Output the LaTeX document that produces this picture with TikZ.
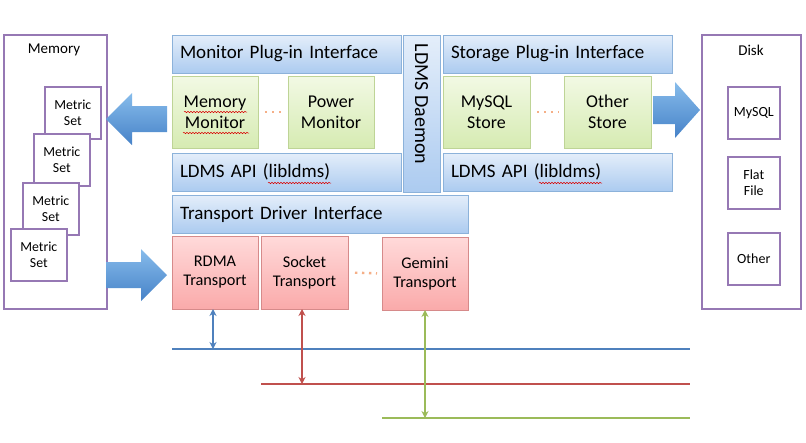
\documentclass[tikz,border=0pt]{standalone}
\usepackage{fontspec}
\setmainfont{Carlito}
\usetikzlibrary{arrows.meta,decorations.pathmorphing}
\definecolor{blueT}{RGB}{228,238,250}
\definecolor{blueBot}{RGB}{172,203,240}
\definecolor{blueB}{RGB}{140,178,218}
\definecolor{greenT}{RGB}{242,249,228}
\definecolor{greenBot}{RGB}{214,235,178}
\definecolor{greenB}{RGB}{190,212,150}
\definecolor{redT}{RGB}{255,218,218}
\definecolor{redBot}{RGB}{250,170,170}
\definecolor{redB}{RGB}{214,138,138}
\definecolor{purp}{RGB}{150,120,180}
\definecolor{arrT}{RGB}{135,188,235}
\definecolor{arrB}{RGB}{70,130,200}
\definecolor{busB}{RGB}{79,129,189}
\definecolor{busR}{RGB}{192,80,77}
\definecolor{busG}{RGB}{155,187,89}
\definecolor{dotc}{RGB}{245,175,135}
\begin{document}
\begin{tikzpicture}[x=1pt,y=-1pt,
  box/.style={draw, line width=0.8pt, inner sep=0pt, outer sep=0pt, anchor=north west, align=center},
  bluebox/.style={box, draw=blueB, top color=blueT, bottom color=blueBot},
  widebox/.style={bluebox, align=left, inner xsep=8pt, font=\fontsize{19}{22}\selectfont},
  greenbox/.style={box, draw=greenB, top color=greenT, bottom color=greenBot, minimum height=72pt, font=\fontsize{18}{21}\selectfont},
  redbox/.style={box, draw=redB, top color=redT, bottom color=redBot, minimum height=73pt, font=\fontsize{16.3}{19}\selectfont},
  purpbox/.style={draw=purp, line width=1.6pt, fill=white, inner sep=0pt, anchor=north west, align=center},
  msbox/.style={purpbox, minimum width=56pt, minimum height=52pt, font=\fontsize{13.8}{16}\selectfont},
  dkbox/.style={purpbox, minimum width=52pt, minimum height=52pt, font=\fontsize{14}{16}\selectfont},
  bigarrow/.style={top color=arrT, bottom color=arrB, draw=none},
  dotline/.style={draw=dotc, line width=2.4pt, dash pattern=on 2.4pt off 4.6pt, shorten <=7pt, shorten >=5pt},
  bus/.style={line width=2.4pt},
  busarrow/.style={line width=2pt, {Stealth[length=7pt,width=7pt]}-{Stealth[length=7pt,width=7pt]}},
  squig/.style={draw=red!85!black, line width=0.5pt, decorate, decoration={snake, amplitude=0.7pt, segment length=3pt}}
]
\useasboundingbox (0,0) rectangle (806,442);
\fill[white] (0,0) rectangle (806,442);

% Memory
\node[purpbox, minimum width=103pt, minimum height=274pt] (mem) at (3,34) {};
\node[font=\fontsize{15}{17}\selectfont] (memlbl) at (54,50) {Memory};
\node[msbox] (ms1) at (44,86) {Metric\\Set};
\node[msbox] (ms2) at (33,133) {Metric\\Set};
\node[msbox] (ms3) at (22,182) {Metric\\Set};
\node[msbox] (ms4) at (10,228) {Metric\\Set};

% Disk
\node[purpbox, minimum width=99pt, minimum height=274pt] (disk) at (701,34) {};
\node[font=\fontsize{15}{17}\selectfont] (disklbl) at (751,50) {Disk};
\node[dkbox] (dk1) at (727,86) {MySQL};
\node[dkbox] (dk2) at (727,156) {Flat\\File};
\node[dkbox] (dk3) at (727,232) {Other};

% Monitor side
\node[widebox, minimum width=229pt, minimum height=38pt, text width=213pt] (mpi) at (172,35) {Monitor Plug-in Interface};
\node[greenbox, minimum width=86pt] (mm) at (172,76) {Memory\\Monitor};
\node[greenbox, minimum width=86pt] (pm) at (288,76) {Power\\Monitor};
\node[widebox, minimum width=229pt, minimum height=38pt, text width=213pt] (api1) at (172,153) {LDMS API (libldms)};

% Daemon
\node[bluebox, minimum width=37pt, minimum height=157pt] (dmn) at (403,35) {};
\node[font=\fontsize{20}{22}\selectfont, rotate=-90] (dmnlbl) at (421.5,104) {LDMS Daemon};

% Storage side
\node[widebox, minimum width=229pt, minimum height=38pt, text width=213pt] (spi) at (443,35) {Storage Plug-in Interface};
\node[greenbox, minimum width=87pt] (mys) at (443,76) {MySQL\\Store};
\node[greenbox, minimum width=87pt] (oth) at (564,76) {Other\\Store};
\node[widebox, minimum width=229pt, minimum height=38pt, text width=213pt] (api2) at (443,153) {LDMS API (libldms)};

% Transport
\node[widebox, minimum width=296pt, minimum height=38pt, text width=280pt] (tdi) at (172,195) {Transport Driver Interface};
\node[redbox, minimum width=86pt] (rdma) at (172,236) {RDMA\\Transport};
\node[redbox, minimum width=87pt] (sock) at (261,236) {Socket\\Transport};
\node[redbox, minimum width=86pt] (gem) at (382,237) {Gemini\\Transport};

% dots
\draw[dotline] (mm.east) -- (pm.west);
\draw[dotline] (mys.east) -- (oth.west);
\draw[dotline] (sock.east) -- (gem.west);

% spell-check squiggles
\draw[squig] (184,112) -- (247,112);
\draw[squig] (183,133) -- (249,133);
\draw[squig] (268,183) -- (331,183);
\draw[squig] (539,183) -- (602,183);

% big arrows
\path[bigarrow] (106,119) -- (132,93) -- (132,106) -- (167,106) -- (167,132) -- (132,132) -- (132,145) -- cycle;
\path[bigarrow] (167,275) -- (141,249) -- (141,262) -- (106,262) -- (106,288) -- (141,288) -- (141,301) -- cycle;
\path[bigarrow] (700,110) -- (675,82) -- (675,96) -- (653,96) -- (653,124) -- (675,124) -- (675,138) -- cycle;

% buses
\coordinate (b1s) at (172,349); \coordinate (b1e) at (690,349);
\coordinate (b2s) at (261,384); \coordinate (b2e) at (690,384);
\coordinate (b3s) at (382,418); \coordinate (b3e) at (690,418);
\draw[bus, busB] (b1s) -- (b1e);
\draw[bus, busR] (b2s) -- (b2e);
\draw[bus, busG] (b3s) -- (b3e);
\coordinate (a1) at (213,349);
\coordinate (a2) at (302,384);
\coordinate (a3) at (425,418);
\draw[busarrow, busB] (rdma.south -| a1) -- (a1);
\draw[busarrow, busR] (sock.south -| a2) -- (a2);
\draw[busarrow, busG] (gem.south -| a3) -- (a3);
\end{tikzpicture}
\end{document}
